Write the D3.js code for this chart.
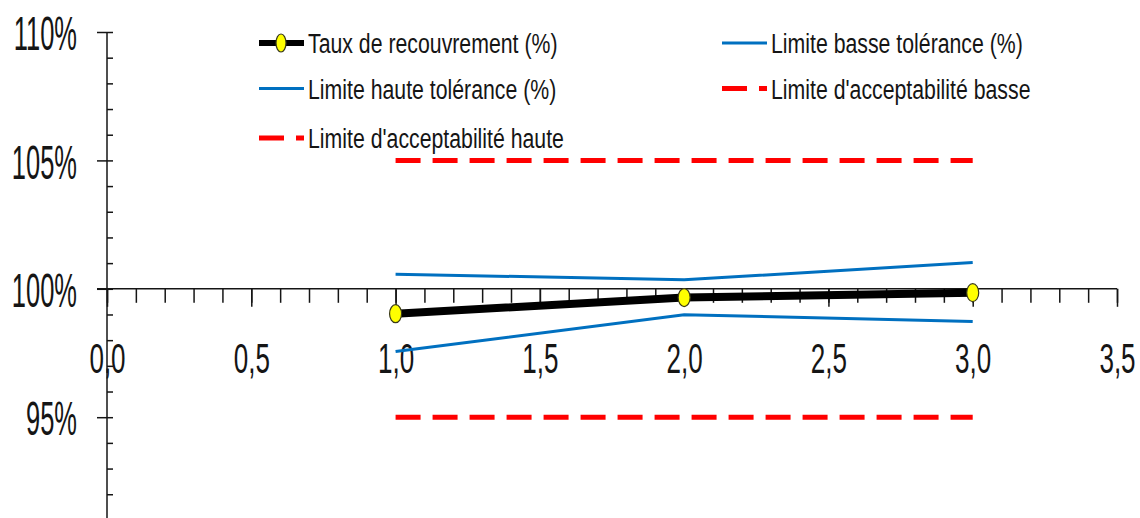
<!DOCTYPE html>
<html>
<head>
<meta charset="utf-8">
<script src="https://cdn.jsdelivr.net/npm/d3@7"></script>
<style>
  html, body { margin: 0; padding: 0; background: #fff; }
  svg { display: block; }
</style>
</head>
<body>
<svg id="vis" width="1140" height="518"></svg>
<script>
// data
var concentrations = [1.0, 2.0, 3.0];
var tauxRecouvrement = [0.9903, 0.9966, 0.9985];
var limiteHaute = [1.0057, 1.0035, 1.0102];
var limiteBasse = [0.9756, 0.9899, 0.9873];
var acceptHaute = [1.05, 1.05, 1.05];
var acceptBasse = [0.95, 0.95, 0.95];

var xTicks = [0, 0.5, 1.0, 1.5, 2.0, 2.5, 3.0, 3.5];
var yTicks = [0.95, 1.00, 1.05, 1.10];

var legendNames = ["Taux de recouvrement (%)", "Limite basse tolérance (%)",
    "Limite haute tolérance (%)", "Limite d'acceptabilité basse",
    "Limite d'acceptabilité haute"];

var BLUE = "#0070C0", RED = "#FF0000", TXT = "#151515";
var FONT = "'Liberation Sans', Arial, sans-serif";

var display = d3.select("#vis");

var x = d3.scaleLinear().domain([0, 3.5]).range([107, 1117]);
var y = d3.scaleLinear().domain([0.90, 1.10]).range([545.6, 32]);

// y axis: major ticks crossing, minor ticks on the right
var yMinor = d3.range(0.90, 1.1001, 0.01);
display.append("g")
    .attr("transform", "translate(107,0)")
    .call(d3.axisRight(y).tickValues(yMinor).tickSize(6).tickFormat(""))
    .call(g => g.select(".domain").remove())
    .selectAll("line").attr("stroke", TXT).attr("stroke-width", 1.5);

var yAxis = display.append("g")
    .attr("transform", "translate(107,0)")
    .call(d3.axisLeft(y).tickValues(yTicks).tickSize(10).tickSizeOuter(0)
        .tickFormat(d3.format(".0%")));
yAxis.select(".domain").attr("stroke", TXT).attr("stroke-width", 1.5)
    .attr("d", `M0,${y(0.90)}V${y(1.10)}`);
yAxis.selectAll("line").attr("stroke", TXT).attr("stroke-width", 1.5);
yAxis.selectAll("text")
    .attr("fill", TXT)
    .style("font-family", FONT)
    .style("font-size", "49px")
    .attr("dy", "0.36em")
    .attr("x", -30 / 0.52)
    .attr("transform", "scale(0.52,1)");

// x axis crossing at 100%
var xMinor = d3.range(0, 3.5001, 0.1);
var x0 = y(1.00);
display.append("g")
    .attr("transform", `translate(0,${x0})`)
    .call(d3.axisBottom(x).tickValues(xMinor).tickSize(14).tickFormat(""))
    .call(g => g.select(".domain").remove())
    .selectAll("line").attr("stroke", TXT).attr("stroke-width", 1.5);

var xAxis = display.append("g")
    .attr("transform", `translate(0,${x0})`)
    .call(d3.axisBottom(x).tickValues(xTicks).tickSize(18).tickSizeOuter(0)
        .tickFormat(d => d3.format(".1f")(d).replace(".", ",")));
xAxis.select(".domain").attr("stroke", TXT).attr("stroke-width", 1.5)
    .attr("d", `M97,0H${x(3.5)}`);
xAxis.selectAll("line").attr("stroke", TXT).attr("stroke-width", 1.5);
xAxis.selectAll("text")
    .attr("fill", TXT)
    .style("font-family", FONT)
    .style("font-size", "42px")
    .attr("x", 0)
    .attr("y", 84)
    .attr("dy", 0)
    .attr("transform", "scale(0.62,1)");

// series
var line = d3.line()
    .x((d, i) => x(concentrations[i]))
    .y(d => y(d));

function drawLine(values, color, width, dash) {
    display.append("path")
        .datum(values)
        .attr("d", line)
        .attr("fill", "none")
        .attr("stroke", color)
        .attr("stroke-width", width)
        .attr("stroke-dasharray", dash || null);
}

drawLine(acceptHaute, RED, 5, "25,12");
drawLine(acceptBasse, RED, 5, "25,12");
drawLine(limiteHaute, BLUE, 3);
drawLine(limiteBasse, BLUE, 3);
drawLine(tauxRecouvrement, "#000", 8);

display.selectAll("ellipse.pt")
    .data(tauxRecouvrement)
    .enter()
    .append("ellipse")
    .attr("class", "pt")
    .attr("cx", (d, i) => x(concentrations[i]))
    .attr("cy", d => y(d))
    .attr("rx", 6)
    .attr("ry", 9)
    .attr("fill", "#FFFF00")
    .attr("stroke", "#3a3a1a")
    .attr("stroke-width", 1.2);

// legend
var legendItems = [
    {name: legendNames[0], col: 0, row: 0, color: "#000", width: 6, dash: null, marker: true},
    {name: legendNames[1], col: 1, row: 0, color: BLUE, width: 3, dash: null},
    {name: legendNames[2], col: 0, row: 1, color: BLUE, width: 3, dash: null},
    {name: legendNames[3], col: 1, row: 1, color: RED, width: 5, dash: "25,12"},
    {name: legendNames[4], col: 0, row: 2, color: RED, width: 5, dash: "25,12"}
];
var colX = [259, 722];
var rowY = [43, 88.5, 138];

var legend = display.selectAll(".legend")
    .data(legendItems)
    .enter()
    .append("g")
    .attr("class", "legend")
    .attr("transform", d => `translate(${colX[d.col]},${rowY[d.row]})`);

legend.append("line")
    .attr("x1", 0)
    .attr("x2", 45)
    .attr("stroke", d => d.color)
    .attr("stroke-width", d => d.width)
    .attr("stroke-dasharray", d => d.dash);

legend.filter(d => d.marker)
    .append("ellipse")
    .attr("cx", 22)
    .attr("rx", 5)
    .attr("ry", 9)
    .attr("fill", "#FFFF00")
    .attr("stroke", "#3a3a1a")
    .attr("stroke-width", 1.2);

legend.append("text")
    .attr("transform", "translate(49,10) scale(0.76,1)")
    .attr("fill", TXT)
    .style("font-family", FONT)
    .style("font-size", "28px")
    .text(d => d.name);
</script>
</body>
</html>
